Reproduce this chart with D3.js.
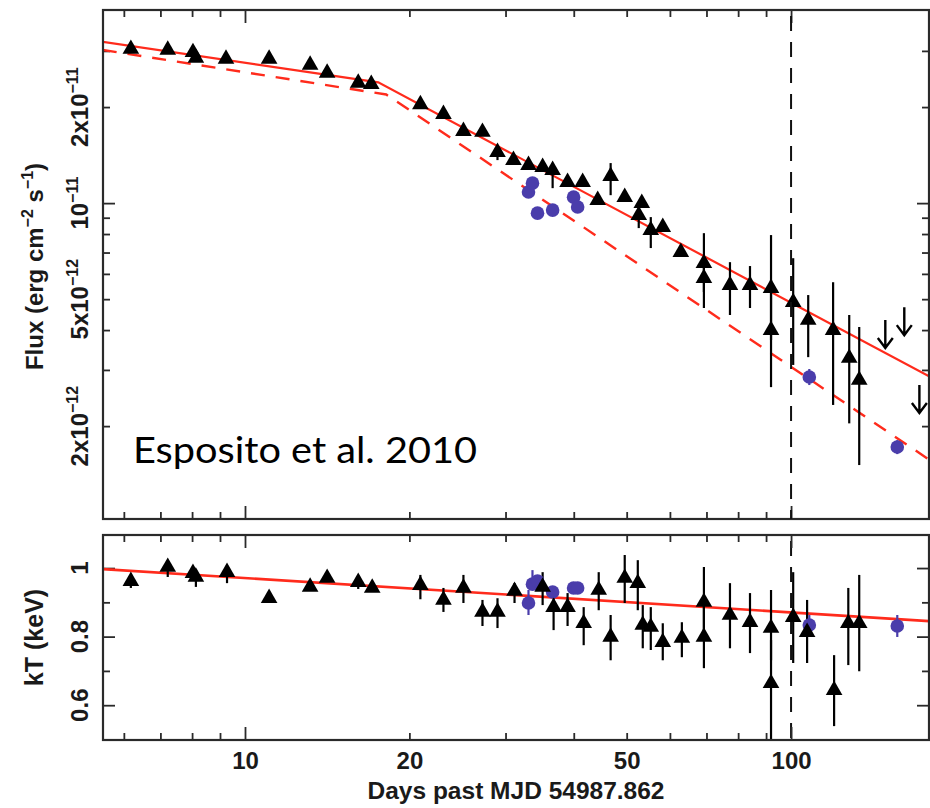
<!DOCTYPE html>
<html><head><meta charset="utf-8">
<script src="https://cdn.jsdelivr.net/npm/d3@7"></script>
<style>body{margin:0;background:#fff} svg{display:block}</style>
</head><body><svg id="c" width="930" height="808"></svg>
<script>
// ---------- DATA ----------
// Flux panel: black triangles (days, flux, error low, error high)
const fluxDays = [6.18, 7.22, 8.03, 8.13, 9.23, 11.07, 13.16, 14.14, 16.12, 17.03, 20.95, 23.09, 25.12, 27.22, 29.00, 31.02, 33.05, 35.08, 36.59, 38.97, 41.53, 46.73, 44.25, 49.59, 53.29, 52.61, 55.35, 58.22, 62.83, 69.25, 69.25, 77.29, 84.10, 91.9, 91.9, 100.9, 107.5, 119.4, 127.8, 133.3];
const fluxVals = [3.04e-11, 3.02e-11, 2.97e-11, 2.85e-11, 2.83e-11, 2.83e-11, 2.71e-11, 2.56e-11, 2.38e-11, 2.36e-11, 2.04e-11, 1.90e-11, 1.68e-11, 1.67e-11, 1.445e-11, 1.364e-11, 1.315e-11, 1.297e-11, 1.269e-11, 1.164e-11, 1.164e-11, 1.215e-11, 1.022e-11, 1.044e-11, 1.00e-11, 9.17e-12, 8.23e-12, 8.41e-12, 7.02e-12, 6.48e-12, 5.82e-12, 5.53e-12, 5.53e-12, 5.41e-12, 4.00e-12, 4.89e-12, 4.30e-12, 4.00e-12, 3.27e-12, 2.79e-12];
const fluxLo = [null, null, null, null, null, null, null, null, null, null, null, null, null, null, 1.364e-11, null, null, null, 1.114e-11, null, null, 1.059e-11, null, null, null, 8.35e-12, 7.23e-12, null, null, 5.26e-12, 4.69e-12, 4.46e-12, 4.69e-12, 3.72e-12, 2.65e-12, 3.11e-12, 3.29e-12, 2.33e-12, 2.04e-12, 1.51e-12];
const fluxHi = [null, null, null, null, null, null, null, null, null, null, null, null, null, null, 1.50e-11, null, null, null, 1.30e-11, null, null, 1.335e-11, null, null, null, 9.60e-12, 9.04e-12, null, null, 8.05e-12, 6.39e-12, 6.53e-12, 6.35e-12, 7.94e-12, 5.74e-12, 6.72e-12, 5.15e-12, 5.65e-12, 4.46e-12, 4.09e-12];
// Flux panel: blue circles
const blueDays = [33.05, 33.61, 34.33, 36.59, 39.97, 40.66, 108.0, 156.5];
const blueFlux = [1.083e-11, 1.155e-11, 9.30e-12, 9.51e-12, 1.044e-11, 9.72e-12, 2.85e-12, 1.72e-12];
const blueFluxLo = [null, null, null, null, null, null, 2.69e-12, 1.634e-12];
const blueFluxHi = [null, null, null, null, null, null, 3.02e-12, 1.807e-12];
// Flux panel: upper limits
const ulDays = [148.8, 161.2, 171.8];
const ulFlux = [4.30e-12, 4.72e-12, 2.69e-12];
// Flux panel: model lines (broken power laws)
const solidDays = [5.49, 17.54, 180];
const solidFlux = [3.20e-11, 2.39e-11, 2.85e-12];
const dashDays = [5.49, 18.14, 180];
const dashFlux = [3.02e-11, 2.19e-11, 1.56e-12];

// kT panel: black triangles
const kTDays = [6.18, 7.22, 8.03, 8.13, 9.27, 11.07, 13.16, 14.14, 16.12, 17.10, 20.95, 23.09, 25.12, 27.22, 29.00, 31.16, 35.08, 36.74, 38.97, 41.71, 44.44, 46.73, 49.59, 52.40, 53.51, 55.35, 58.22, 63.10, 69.25, 69.25, 77.29, 84.10, 91.9, 91.9, 100.9, 107.0, 119.9, 127.3, 133.3];
const kTVals = [0.962, 1.003, 0.985, 0.974, 0.988, 0.912, 0.945, 0.971, 0.959, 0.942, 0.950, 0.907, 0.942, 0.872, 0.872, 0.933, 0.945, 0.886, 0.886, 0.839, 0.936, 0.799, 0.971, 0.956, 0.834, 0.828, 0.784, 0.796, 0.901, 0.799, 0.863, 0.842, 0.825, 0.664, 0.857, 0.813, 0.644, 0.839, 0.839];
const kTLo = [0.942, 0.974, 0.965, 0.945, 0.956, null, null, null, 0.939, null, 0.909, 0.872, 0.898, 0.831, 0.825, 0.898, 0.892, 0.819, 0.831, 0.775, 0.877, 0.731, 0.898, 0.877, 0.766, 0.761, 0.731, 0.740, 0.799, 0.708, 0.766, 0.752, 0.731, 0.498, 0.723, 0.723, 0.539, 0.717, 0.699];
const kTHi = [0.974, 1.023, 1.000, 0.990, 1.009, null, null, null, 0.965, null, 0.980, 0.942, 0.980, 0.907, 0.912, 0.956, 0.988, 0.915, 0.927, 0.886, 0.988, 0.863, 1.038, 1.023, 0.892, 0.886, 0.839, 0.842, 1.003, 0.907, 0.956, 0.927, 0.936, 0.790, 0.988, 0.907, 0.746, 0.942, 0.980];
// kT panel: blue circles
const blueKT = [0.898, 0.953, 0.962, 0.930, 0.942, 0.942, 0.834, 0.831];
const blueKTLo = [0.863, 0.936, null, null, null, null, 0.799, 0.799];
const blueKTHi = [0.936, 0.994, null, null, null, null, 0.863, 0.863];
// kT panel: model line
const kTModelDays = [5.49, 180];
const kTModelVals = [0.997, 0.845];

// Axes
const markerDay = 100;
const xTickValues = [10, 20, 50, 100];
const xTickLabels = ["10", "20", "50", "100"];
const xMajor = [10, 100];
const xMinor = [6, 7, 8, 9, 20, 30, 40, 50, 60, 70, 80, 90];
const fluxTickValues = [2e-11, 1e-11, 5e-12, 2e-12];
const fluxTickMant = ["2x10", "10", "5x10", "2x10"];
const fluxTickExp = ["\u221211", "\u221211", "\u221212", "\u221212"];
const fluxMajor = [1e-11];
const fluxMinor = [2e-12, 3e-12, 4e-12, 5e-12, 6e-12, 7e-12, 8e-12, 9e-12, 2e-11, 3e-11];
const kTTickValues = [1, 0.8, 0.6];
const kTTickLabels = ["1", "0.8", "0.6"];
const kTMinor = [0.7, 0.9];
const annotation = "Esposito et al. 2010";
const xTitle = "Days past MJD 54987.862";

// ---------- LAYOUT ----------
const L = 103, R = 929, T1 = 10, B1 = 519, T2 = 535, B2 = 740;
const FONT = '"Liberation Sans", Arial, Helvetica, sans-serif';
const RED = "#ff2b1c", BLUE = "#4a3dab", FRAME = "#2a2a2a", TXT = "#1a1a1a";

const svg = d3.select("#c");
const x = d3.scaleLog().domain([5.495, 178.9]).range([L, R]);
const yF = d3.scaleLog().domain([1.023e-12, 4.03e-11]).range([B1, T1]);
const yK = d3.scaleLinear().domain([0.4985, 1.0964]).range([B2, T2]);

const defs = svg.append("defs");
defs.append("clipPath").attr("id", "clipTop").append("rect").attr("x", L).attr("y", T1).attr("width", R - L).attr("height", B1 - T1);
defs.append("clipPath").attr("id", "clipBot").append("rect").attr("x", L).attr("y", T2).attr("width", R - L).attr("height", B2 - T2);

function tickAxes(g, xs, ys, top, bottom, yMajor, yMinor) {
  const add = (axis, tx, ty) => {
    g.append("g").attr("transform", `translate(${tx},${ty})`)
      .call(axis.tickFormat(""))
      .call(s => s.select(".domain").remove())
      .call(s => s.selectAll("line").attr("stroke", FRAME).attr("stroke-width", 1.8));
  };
  add(d3.axisBottom(xs).tickValues(xMajor).tickSize(13), 0, top);
  add(d3.axisBottom(xs).tickValues(xMinor).tickSize(7), 0, top);
  add(d3.axisTop(xs).tickValues(xMajor).tickSize(13), 0, bottom);
  add(d3.axisTop(xs).tickValues(xMinor).tickSize(7), 0, bottom);
  add(d3.axisRight(ys).tickValues(yMajor).tickSize(12), L, 0);
  add(d3.axisRight(ys).tickValues(yMinor).tickSize(7), L, 0);
  add(d3.axisLeft(ys).tickValues(yMajor).tickSize(12), R, 0);
  add(d3.axisLeft(ys).tickValues(yMinor).tickSize(7), R, 0);
}

// ---------- TOP PANEL ----------
const gTop = svg.append("g");
tickAxes(gTop, x, yF, T1, B1, fluxMajor, fluxMinor);

const plotTop = gTop.append("g").attr("clip-path", "url(#clipTop)");
const lineF = d3.line().x(d => x(d[0])).y(d => yF(d[1]));
plotTop.append("path").datum(dashDays.map((d, i) => [d, dashFlux[i]]))
  .attr("d", lineF).attr("fill", "none").attr("stroke", RED).attr("stroke-width", 2.4).attr("stroke-dasharray", "14,11");
plotTop.append("path").datum(solidDays.map((d, i) => [d, solidFlux[i]]))
  .attr("d", lineF).attr("fill", "none").attr("stroke", RED).attr("stroke-width", 2.2);

// vertical dashed line
[[T1, B1], [T2, B2]].forEach(([a, b]) => {
  svg.append("line").attr("x1", x(markerDay)).attr("x2", x(markerDay)).attr("y1", a).attr("y2", b)
    .attr("stroke", "#111").attr("stroke-width", 2).attr("stroke-dasharray", "15,11").attr("stroke-dashoffset", -6);
});

function errBars(g, xs, ys, days, lo, hi, color) {
  g.append("g").selectAll("line").data(days.map((d, i) => ({d, lo: lo[i], hi: hi[i]})).filter(e => e.lo != null))
    .join("line").attr("x1", e => xs(e.d)).attr("x2", e => xs(e.d))
    .attr("y1", e => ys(e.lo)).attr("y2", e => ys(e.hi))
    .attr("stroke", color).attr("stroke-width", 2.2);
}
const tri = d3.symbol(d3.symbolTriangle, 120)();

errBars(plotTop, x, yF, fluxDays, fluxLo, fluxHi, "#000");
errBars(plotTop, x, yF, blueDays, blueFluxLo, blueFluxHi, BLUE);
plotTop.append("g").selectAll("circle").data(blueDays).join("circle")
  .attr("cx", d => x(d)).attr("cy", (d, i) => yF(blueFlux[i])).attr("r", 6.8).attr("fill", BLUE);
plotTop.append("g").selectAll("path").data(fluxDays).join("path")
  .attr("d", tri).attr("transform", (d, i) => `translate(${x(d)},${yF(fluxVals[i])})`).attr("fill", "#000");
// upper limit arrows
plotTop.append("g").selectAll("path").data(ulDays).join("path")
  .attr("transform", (d, i) => `translate(${x(d)},${yF(ulFlux[i])})`)
  .attr("d", "M0,0L0,28M-7.5,18L0,28L7.5,18")
  .attr("fill", "none").attr("stroke", "#000").attr("stroke-width", 2.4);

gTop.append("rect").attr("x", L).attr("y", T1).attr("width", R - L).attr("height", B1 - T1)
  .attr("fill", "none").attr("stroke", FRAME).attr("stroke-width", 2.2);

// flux tick labels (rotated)
const fl = gTop.append("g").attr("font-family", FONT).attr("font-size", 24).attr("font-weight", "bold").attr("fill", TXT);
fluxTickValues.forEach((v, i) => {
  const t = fl.append("text").attr("transform", `translate(88,${yF(v)}) rotate(-90)`).attr("text-anchor", "middle");
  t.append("tspan").text(fluxTickMant[i]);
  t.append("tspan").attr("font-size", 16).attr("dy", -10).text(fluxTickExp[i]);
});
// flux title
const ft = svg.append("text").attr("font-family", FONT).attr("font-size", 24).attr("font-weight", "bold").attr("fill", TXT)
  .attr("transform", `translate(43,${(T1 + B1) / 2 + 2}) rotate(-90)`).attr("text-anchor", "middle");
ft.append("tspan").text("Flux (erg cm");
ft.append("tspan").attr("font-size", 16).attr("dy", -10).text("\u22122");
ft.append("tspan").attr("dy", 10).text(" s");
ft.append("tspan").attr("font-size", 16).attr("dy", -10).text("\u22121");
ft.append("tspan").attr("dy", 10).text(")");

// annotation
svg.append("text").attr("x", 133).attr("y", 463).attr("font-family", 'Lato, "Open Sans", sans-serif')
  .attr("font-size", 37).attr("fill", "#000").attr("textLength", 344).attr("lengthAdjust", "spacingAndGlyphs")
  .text(annotation);

// ---------- BOTTOM PANEL ----------
const gBot = svg.append("g");
tickAxes(gBot, x, yK, T2, B2, kTTickValues, kTMinor);
const plotBot = gBot.append("g").attr("clip-path", "url(#clipBot)");
const lineK = d3.line().x(d => x(d[0])).y(d => yK(d[1]));
plotBot.append("path").datum(kTModelDays.map((d, i) => [d, kTModelVals[i]]))
  .attr("d", lineK).attr("fill", "none").attr("stroke", RED).attr("stroke-width", 2.6);
errBars(plotBot, x, yK, kTDays, kTLo, kTHi, "#000");
errBars(plotBot, x, yK, blueDays, blueKTLo, blueKTHi, BLUE);
plotBot.append("g").selectAll("circle").data(blueDays).join("circle")
  .attr("cx", d => x(d)).attr("cy", (d, i) => yK(blueKT[i])).attr("r", 6.8).attr("fill", BLUE);
plotBot.append("g").selectAll("path").data(kTDays).join("path")
  .attr("d", tri).attr("transform", (d, i) => `translate(${x(d)},${yK(kTVals[i])})`).attr("fill", "#000");

gBot.append("rect").attr("x", L).attr("y", T2).attr("width", R - L).attr("height", B2 - T2)
  .attr("fill", "none").attr("stroke", FRAME).attr("stroke-width", 2.2);

// kT tick labels
const kl = gBot.append("g").attr("font-family", FONT).attr("font-size", 24).attr("font-weight", "bold").attr("fill", TXT);
kTTickValues.forEach((v, i) => {
  kl.append("text").attr("transform", `translate(88,${yK(v)}) rotate(-90)`).attr("text-anchor", "middle").text(kTTickLabels[i]);
});
svg.append("text").attr("font-family", FONT).attr("font-size", 25).attr("font-weight", "bold").attr("fill", TXT)
  .attr("transform", `translate(43,${(T2 + B2) / 2}) rotate(-90)`).attr("text-anchor", "middle").text("kT (keV)");

// x tick labels
svg.append("g").attr("transform", `translate(0,${B2})`)
  .call(d3.axisBottom(x).tickValues(xTickValues).tickSize(0).tickPadding(12).tickFormat((d, i) => xTickLabels[i]))
  .call(s => s.select(".domain").remove())
  .call(s => s.selectAll("text").attr("font-family", FONT).attr("font-size", 24).attr("font-weight", "bold").attr("fill", TXT));
svg.append("text").attr("x", (L + R) / 2).attr("y", 799).attr("text-anchor", "middle")
  .attr("font-family", FONT).attr("font-size", 24.5).attr("font-weight", "bold").attr("fill", TXT).text(xTitle);
</script></body></html>
